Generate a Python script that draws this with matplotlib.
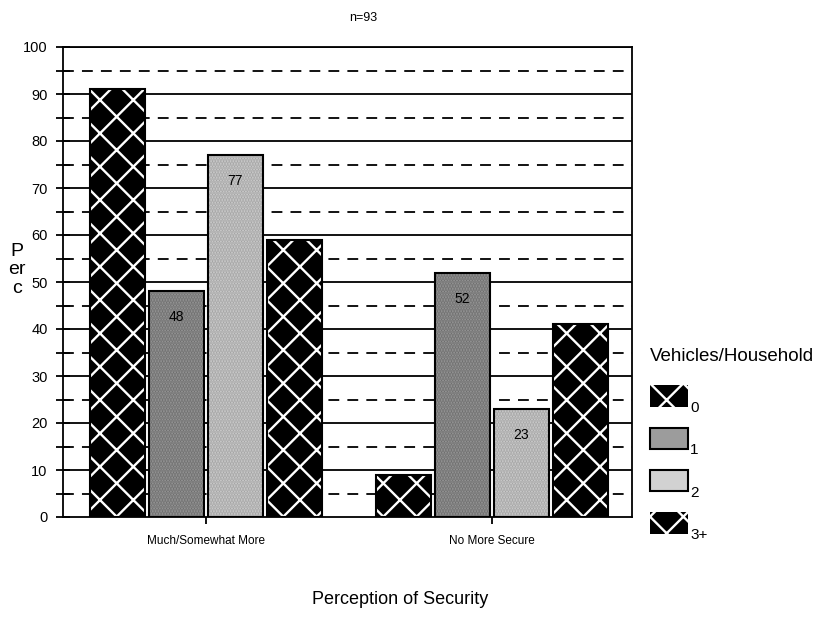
import matplotlib
matplotlib.use("Agg")
import matplotlib.pyplot as plt
import numpy as np
from matplotlib.patches import Patch

categories = ["Much/Somewhat More", "No More Secure"]
series_names = ["0", "1", "2", "3+"]
vals_0 = [91, 9]
vals_1 = [48, 52]
vals_2 = [77, 23]
vals_3 = [59, 41]
series_vals = [vals_0, vals_1, vals_2, vals_3]
shown_labels = [None, ["48", "52"], ["77", "23"], None]
yticks_major = [0, 10, 20, 30, 40, 50, 60, 70, 80, 90, 100]

plt.rcParams['font.family'] = ['Liberation Sans', 'DejaVu Sans']
plt.rcParams['hatch.linewidth'] = 1.7

fig = plt.figure(figsize=(8.24, 6.36), dpi=100)
ax = fig.add_axes([63/824, 1-517/636, (632-63)/824, (517-47)/636])

unit = 286.0
step = 59 / unit
width = 55 / unit
x = np.arange(len(categories))
styles = [
    dict(kind="pattern"),
    dict(kind="solid", face="#9c9c9c", dots="#6e6e6e"),
    dict(kind="solid", face="#d2d2d2", dots="#a4a4a4"),
    dict(kind="pattern"),
]

# gridlines
for v in range(10, 101, 10):
    ax.axhline(v, color="black", lw=1.3, zorder=0.5)
for v in range(5, 100, 10):
    ax.axhline(v, color="black", lw=1.3, ls=(0, (6, 4.5)), zorder=0.5)

handles = []
for i, (vals, st) in enumerate(zip(series_vals, styles)):
    pos = x + (i - 1.5) * step
    if st["kind"] == "pattern":
        ax.bar(pos, vals, width, color="black", edgecolor="white", hatch="x", lw=0, zorder=2)
        ax.bar(pos, vals, width, fill=False, edgecolor="black", lw=1.5, zorder=3)
        handles.append(Patch(facecolor="black", edgecolor="white", hatch="x", lw=0))
    else:
        ax.bar(pos, vals, width, color=st["face"], edgecolor=st["dots"], hatch="......", lw=0, zorder=2)
        ax.bar(pos, vals, width, fill=False, edgecolor="black", lw=1.5, zorder=3)
        handles.append(Patch(facecolor=st["face"], edgecolor="black", lw=1.5))
    if shown_labels[i]:
        for p, v, lab in zip(pos, vals, shown_labels[i]):
            ax.annotate(lab, (p, v), xytext=(0, -26), textcoords="offset pixels",
                        ha="center", va="center", fontsize=10, zorder=4,
                        family=['Liberation Sans Narrow', 'Liberation Sans'])

ax.set_xlim((63-206)/unit, (632-206)/unit)
ax.set_ylim(0, 100)
ax.set_yticks(yticks_major)
ax.set_yticks(list(range(5, 100, 10)), minor=True)
ax.tick_params(axis="y", which="both", direction="inout", length=10, width=1.3, labelsize=10.5, pad=6)
ax.set_xticks(x)
ax.set_xticklabels(categories, fontsize=8.5, family=['Liberation Sans Narrow', 'Liberation Sans'])
ax.tick_params(axis="x", direction="out", length=5, width=1.3, pad=8)
for lab in ax.get_yticklabels():
    lab.set_family(['Liberation Sans Narrow', 'Liberation Sans'])
for s in ax.spines.values():
    s.set_linewidth(1.3)

fig.text(363/824, 1-18/636, "n=93", ha="center", va="center", fontsize=9,
         family=['Liberation Sans Narrow', 'Liberation Sans'])
fig.text(17/824, 1-270/636, "P\ner\nc", ha="center", va="center", fontsize=14, linespacing=1.1)
fig.text(400/824, 1-600/636, "Perception of Security", ha="center", va="center", fontsize=13)

leg = fig.legend(handles, series_names, loc="upper left", bbox_to_anchor=(636/824, 1-334/636),
                 frameon=False, title="Vehicles/Household", title_fontsize=13.5, fontsize=11,
                 handlelength=2.5, handleheight=1.8, labelspacing=1.35, handletextpad=0.15,
                 alignment="left")
for t in leg.get_texts():
    t.set_verticalalignment("top")

fig.savefig("out.png", dpi=100)
